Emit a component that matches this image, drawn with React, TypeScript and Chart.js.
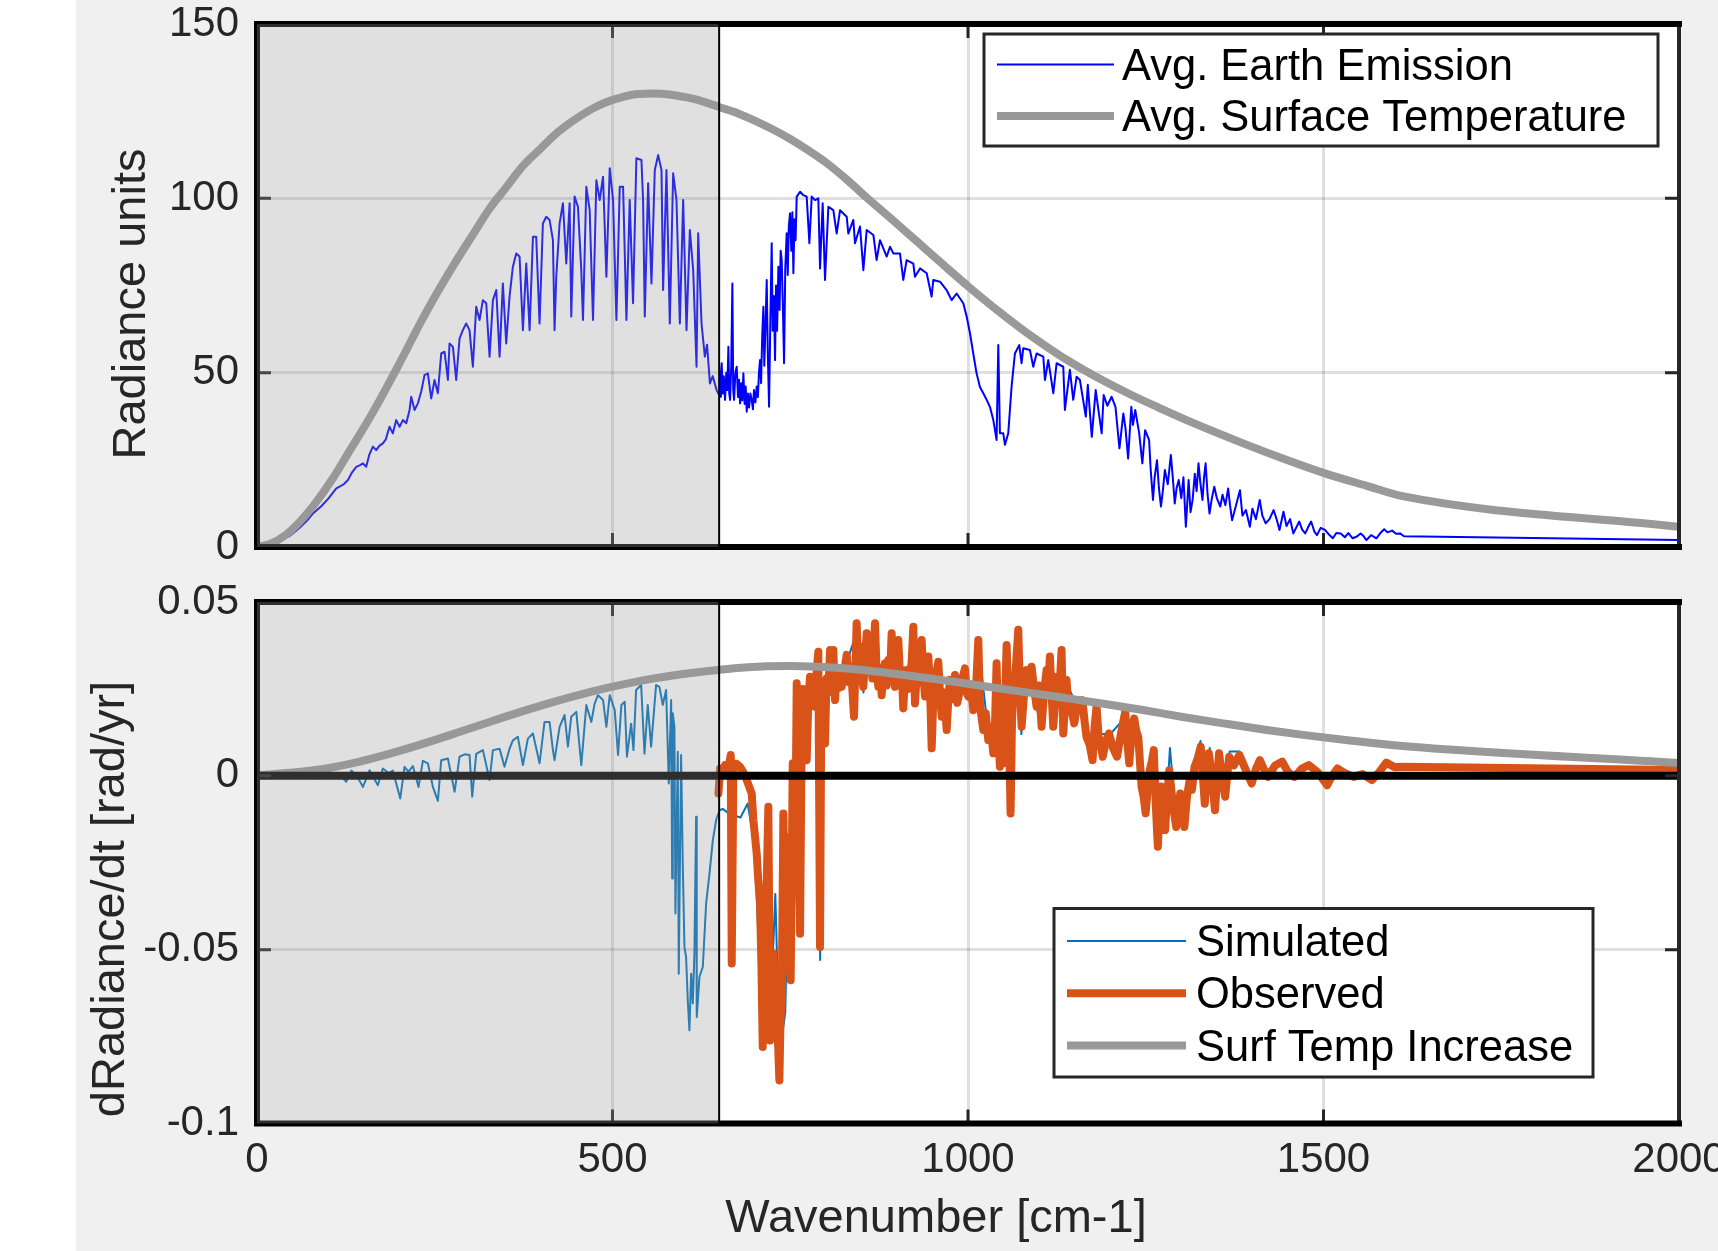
import React, { useEffect, useRef } from "react";
import { Chart, registerables } from "chart.js";

Chart.register(...registerables);

const FONT_FAMILY = '"Liberation Sans", Arial, Helvetica, sans-serif';

// ---------- axes / ticks ----------
const xTicks = [0, 500, 1000, 1500, 2000];
const topYTicks = [0, 50, 100, 150];
const bottomYTicks = [-0.1, -0.05, 0, 0.05];
const shadeEnd = 650;

const xTitle = "Wavenumber [cm-1]";
const topYTitle = "Radiance units";
const bottomYTitle = "dRadiance/dt [rad/yr]";

// ---------- top panel series (wavenumber, radiance) ----------
const earthEmission: [number, number][] = [
  [45, 3.0], [50.5, 3.9], [60, 5.5], [70, 7.5], [78.7, 9.6], [90, 11.6], [100, 13.8], [111.5, 16.8],
  [116.2, 17.3], [122, 18.0], [127.9, 19.2], [134, 21.5], [139.6, 23.0], [145, 23.5], [149, 24.0],
  [153.6, 23.0], [158, 26.5], [163, 28.8], [167.7, 27.8], [172, 29.0], [177, 29.7], [181, 30.8],
  [186.4, 34.5], [191.1, 32.6], [195.8, 36.4], [200.5, 34.5], [205.2, 36.4], [209.9, 35.5],
  [214.6, 39.3], [216.9, 43.1], [221.6, 39.3], [226.3, 41.2], [231, 44.6], [235.6, 49.3],
  [240.3, 49.8], [245, 42.6], [249.7, 47.9], [254.4, 44.1], [259.1, 55.5], [263.8, 56.0],
  [268.5, 47.9], [270.8, 58.4], [275.5, 57.4], [280.2, 47.9], [284.9, 59.8], [289.5, 62.2],
  [294.2, 64.1], [298.9, 62.2], [303.6, 51.7], [308.3, 68.9], [313, 65.1], [317.7, 70.8],
  [322.4, 69.9], [327.1, 54.6], [331.8, 70.8], [336.5, 73.7], [341.2, 54.6], [345.8, 75.6],
  [350.5, 58.4], [355.2, 71.8], [359.9, 80.4], [364.6, 84.2], [369.3, 83.3], [374, 62.2],
  [378.7, 81.3], [383.4, 62.2], [388.1, 89.0], [392.7, 89.0], [397.4, 64.1], [402.1, 92.8],
  [406.8, 94.7], [411.5, 93.8], [416.2, 88.0], [418.5, 62.2], [420.9, 77.5], [425.6, 92.8],
  [430.3, 98.6], [435, 81.3], [439.7, 98.6], [442, 66.1], [446.7, 100.5], [451.4, 97.6],
  [456.1, 79.4], [458.5, 65.1], [463.2, 103.3], [467.9, 96.6], [472.6, 65.1], [477.3, 105.2],
  [482, 99.5], [486.7, 106.2], [491.4, 77.5], [496.1, 108.6], [500.8, 99.5], [505.5, 65.1],
  [510.2, 103.3], [514.9, 103.3], [519.6, 65.1], [524.2, 99.5], [528.9, 69.9], [533.6, 111.5],
  [540.7, 111.0], [543, 99.5], [545.4, 66.1], [550.1, 104.3], [554.8, 75.6], [559.5, 108.1],
  [564.2, 112.4], [568.9, 108.1], [571.2, 73.7], [575.9, 108.1], [580.6, 64.1], [585.3, 107.2],
  [590, 99.5], [594.7, 64.1], [599.4, 99.5], [604.1, 62.2], [608.8, 90.9], [613.5, 79.4],
  [618.2, 51.7], [620.5, 90.0], [625.2, 64.1], [629.9, 54.6], [633, 58], [637, 46.9], [641, 49],
  [646.4, 45.0],
  [651.3, 43.1], [652.5, 50], [653.6, 52.7], [655, 44], [656.5, 49], [658.3, 42.2], [660, 50],
  [661.5, 45], [663, 57.4], [664.2, 44], [665.4, 42.2], [667, 52], [668.6, 75.6], [669.8, 45],
  [671, 42.2], [672.8, 50], [674.7, 51.7], [676.5, 43], [678, 48], [679.4, 41.2], [681, 47],
  [682.5, 42], [684.1, 49.8], [685.8, 41], [687.3, 46], [688.8, 38.8], [690.5, 44], [692, 40],
  [694, 44], [695.8, 42.2], [697.5, 39.5], [699, 45], [701, 41.5], [702.8, 46.0], [704.5, 43],
  [706, 50], [707.5, 53.6], [709, 47], [710.5, 60], [712.2, 68.9], [713.5, 52], [715, 62],
  [716.9, 76.6], [718.5, 55], [720.2, 40.2], [722, 65], [723.9, 87.1], [725.3, 62], [727, 72],
  [728.6, 53.6], [730, 75], [731.5, 62], [733.3, 80.4], [735, 68], [736.5, 85], [738, 82.3],
  [739.5, 70], [741.3, 52.7], [743, 80], [745, 90.0], [746.5, 78], [748, 92], [749.7, 95.7],
  [751.5, 85], [753, 96], [754.4, 78.5], [756, 94], [757.5, 88], [759.1, 100.5], [763.8, 101.9],
  [768.4, 100.9], [773.1, 100.5], [776.9, 87.1], [780.2, 100.5], [784.9, 99.5], [789.5, 100.0],
  [791.9, 79.9], [795.6, 98.6], [798.9, 76.6], [803.6, 97.6], [810.6, 96.6], [815.3, 89.9],
  [820, 96.6], [829.4, 94.7], [831.7, 89.9], [838.7, 93.8], [841.1, 87.1], [848.1, 91.9],
  [852.8, 79.4], [857.5, 90.9], [866.9, 89.5], [871.5, 82.3], [876.2, 88.0], [885.6, 83.3],
  [890.3, 86.1], [895, 84.2], [904.3, 84.2], [909, 76.6], [913.7, 82.3], [923.1, 81.3],
  [925.4, 77.5], [932.5, 79.9], [941.9, 78.5], [948.8, 71.8], [951.2, 76.6], [960.6, 76.1],
  [969.9, 73.7], [977, 70.8], [984, 72.7], [993.4, 69.9], [998.1, 66.1], [1002.8, 61.3],
  [1007.4, 55.5], [1012.1, 49.8], [1016.8, 45.9], [1021.5, 44.1], [1026.3, 42.2], [1030.8, 40.2],
  [1035.6, 36.4], [1040.2, 30.7], [1042.6, 57.9], [1044.9, 32.6], [1049.6, 32.6], [1052, 29.3],
  [1056.6, 32.6], [1061.3, 46.0], [1066, 55.5], [1072.1, 57.9], [1075.4, 52.7], [1077.7, 57.0],
  [1087.1, 56.5], [1091.8, 51.7], [1096.5, 55.5], [1105.9, 54.6], [1108.2, 47.9], [1112.9, 53.6],
  [1120, 44.1], [1124.6, 52.7], [1134, 51.7], [1136.3, 39.3], [1143.3, 50.8], [1148, 42.2],
  [1152.7, 48.8], [1157.4, 47.9], [1165.7, 37.4], [1168.5, 46.5], [1174.1, 31.6], [1179.6, 45.0],
  [1188, 32.6], [1190.8, 43.6], [1196, 40.5], [1201.9, 43.1], [1207.4, 40.2], [1213, 28.3],
  [1218.5, 38.3], [1221.5, 34], [1225.2, 25.4], [1229.7, 40.2], [1232, 35], [1235.2, 39.3],
  [1240.8, 32.6], [1245.2, 24.0], [1249.1, 33.5], [1254.7, 30.7], [1257, 22], [1260.2, 13.5],
  [1262.5, 20], [1265.8, 24.9], [1268.5, 17], [1271.4, 11.6], [1274, 16], [1276.9, 22.1],
  [1281, 18], [1285.3, 26.4], [1288, 20], [1290.8, 12.5], [1293.5, 17], [1296.4, 19.2],
  [1300, 14], [1303, 20], [1306.4, 5.8], [1310.3, 19.2], [1313, 10], [1315.9, 13.5], [1319, 21],
  [1321.5, 16], [1324.2, 24.0], [1327, 18], [1329.8, 13.5], [1332, 20], [1334.2, 24.0], [1337, 15],
  [1339.7, 9.6], [1343, 14], [1346.4, 17.3], [1350, 14], [1354.8, 11.6], [1358, 15], [1362, 12],
  [1365.9, 16.8], [1368.5, 12], [1371.4, 7.7], [1377, 12], [1382.5, 16.3], [1386, 9],
  [1390.9, 10.6], [1396.4, 5.8], [1400, 11], [1405, 8], [1410.3, 13.5], [1414, 9], [1418.7, 6.8],
  [1424, 8], [1429.8, 10.6], [1434, 8], [1438.1, 4.9], [1443.7, 10.1], [1448, 6], [1453, 8],
  [1457.6, 3.9], [1465.9, 7.3], [1470, 5], [1474.3, 3.9], [1478, 5.5], [1482.6, 7.3], [1487, 4.5],
  [1490.9, 3.4], [1496, 5.5], [1502.1, 4.9], [1508, 3.5], [1513.2, 2.5], [1518, 4], [1524.3, 3.9],
  [1530, 2.8], [1535, 4], [1541, 2.5], [1547, 3], [1552.1, 3.9], [1556, 3.2], [1560.4, 2.0],
  [1567, 3.4], [1574.3, 2.5], [1580, 4], [1585.4, 5.1], [1590, 4.2], [1596.6, 4.7], [1602, 3.8],
  [1607.7, 3.9], [1613.2, 3.1], [2000, 2.0],
];

const surfaceTemperature: [number, number][] = [
  [0, 0], [20, 1.0], [40, 3.4], [60, 7.2], [80, 12], [107, 19.8], [130, 27.5], [154, 35.5],
  [175, 43], [200, 52.5], [233, 65.5], [255, 73.5], [280, 82], [305, 90], [327, 97], [350, 103],
  [374, 109.3], [400, 114.5], [421, 118.6], [445, 122.3], [468, 125.3], [490, 127.5], [515, 129.1],
  [535, 129.9], [557, 130.1], [580, 129.8], [608, 128.8], [630, 127.6], [650, 126.2], [675, 124.5],
  [700, 122.3], [725, 119.8], [750, 117], [775, 113.8], [800, 110.3], [830, 105.3], [857, 100.3],
  [890, 94.5], [930, 87.3], [965, 81], [1000, 74.8], [1045, 67.3], [1091, 60.2], [1130, 54.8],
  [1157, 51.5], [1186, 48.2], [1230, 43.6], [1268, 40], [1320, 35.3], [1380, 30.3], [1440, 25.6],
  [1501, 21.2], [1560, 17.6], [1613, 14.5], [2000, 5.8],
];

// ---------- bottom panel series (wavenumber, dRadiance/dt) ----------
const simulated: [number, number][] = [
  [0, 0], [46, -0.0003], [83, -0.0007], [93, 0.0007], [105, -0.0005], [115, 0.0008], [125.5, -0.0017],
  [132.6, 0.0015], [140, 0.0002], [149, -0.0032], [158.3, 0.0016], [170, -0.0027], [177, 0.0021],
  [185, 0.0008], [191, 0.0015], [201.5, -0.0065], [207.5, 0.0026], [213, 0.0012], [219.3, 0.0028],
  [227.2, -0.0032], [233.3, 0.0043], [240.3, 0.0036], [247.4, -0.0032], [254.4, -0.0072],
  [259.1, 0.0045], [268.5, 0.0050], [277.9, -0.0046], [284.9, 0.0055], [292, 0.0062],
  [298.9, 0.0060], [302.7, -0.0060], [308.3, 0.0063], [317.7, 0.0074], [327.1, -0.0012],
  [331.8, 0.0074], [341.2, 0.0078], [348.1, 0.0026], [355.2, 0.0078], [359.9, 0.0102],
  [366.9, 0.0112], [374, 0.0031], [381, 0.0107], [388.1, 0.0122], [397.4, 0.0036], [404.4, 0.0155],
  [411.5, 0.0155], [416.2, 0.0074], [418.5, 0.0045], [425.6, 0.0141], [432.6, 0.0175],
  [437.3, 0.0084], [442, 0.0170], [449.1, 0.0184], [456.1, 0.0031], [463.2, 0.0204],
  [470.2, 0.0155], [474.9, 0.0208], [479.6, 0.0232], [486.7, 0.0218], [491.4, 0.0141],
  [496.1, 0.0232], [503.1, 0.0189], [507.8, 0.0060], [512.5, 0.0204], [517.2, 0.0213],
  [520.3, 0.0055], [526.2, 0.0150], [529.5, 0.0074], [533.2, 0.0247], [540.3, 0.0261],
  [545, 0.0064], [549.6, 0.0204], [554.3, 0.0084], [561.3, 0.0261], [566, 0.0256], [570.7, 0.0204],
  [575.4, 0.0247], [579.2, -0.0022], [582.5, 0.0218], [583.9, -0.0295], [584.8, 0.0180],
  [587.1, 0.0141], [588.5, -0.0396], [591.8, 0.0069], [593.2, -0.0569], [596.5, 0.0060],
  [598.9, -0.0262], [601.2, -0.0492], [603.5, -0.0521], [605.9, -0.0646], [608.2, -0.0732],
  [610.6, -0.0569], [612.9, -0.0655], [615.2, -0.0511], [617.6, -0.0118], [618.5, -0.0694],
  [622.3, -0.0578], [627, -0.0550], [631.7, -0.0367], [636.4, -0.0281], [641.1, -0.0185],
  [645.8, -0.0127], [650.5, -0.0099], [655, -0.0095], [665, -0.011], [680, -0.012], [690, -0.008],
  [700, -0.02], [710, -0.07], [716, -0.045], [722, -0.07], [729, -0.034], [735, -0.08],
  [743, -0.068], [748, -0.02], [752, -0.055], [757, -0.03], [760, 0.02], [765, -0.04], [770, 0.02],
  [778, 0.027], [785, 0.02], [790, 0.034], [792, -0.053], [796, 0.02], [806, 0.034], [815, 0.024],
  [830, 0.033], [843, 0.041], [853, 0.024], [858, 0.039], [870, 0.041], [880, 0.024], [893, 0.039],
  [903, 0.037], [910, 0.02], [923, 0.04], [935, 0.037], [945, 0.032], [950, 0.009], [958, 0.031],
  [970, 0.014], [982, 0.028], [996, 0.029], [1007, 0.019], [1015, 0.037], [1026, 0.017],
  [1036, 0.007], [1040, 0.03], [1046, 0.003], [1054, 0.035], [1060, -0.009], [1071, 0.04],
  [1075, 0.012], [1083, 0.029], [1097, 0.019], [1104, 0.014], [1115, 0.032], [1126, 0.027],
  [1134, 0.012], [1140, 0.026], [1158, 0.018], [1175, 0.005], [1185, 0.012], [1200, 0.012],
  [1222, 0.017], [1240, 0.011], [1250, -0.009], [1262, 0.007], [1268, -0.019], [1278, -0.013],
  [1284, 0.008], [1293, -0.013], [1300, -0.005], [1306, -0.014], [1318, 0.004], [1327, 0.010],
  [1333, -0.007], [1340, 0.008], [1348, -0.009], [1354, 0.007], [1362, -0.005], [1368, 0.007],
  [1382, 0.007], [1400, -0.001], [1411, 0.005], [1422, 0.0], [1442, 0.0045], [1460, 0.0],
  [1480, 0.0035], [1505, -0.002], [1520, 0.0025], [1543, 0.0], [1568, -0.0008], [1588, 0.004],
  [1611, 0.003], [2000, 0.0018],
];

const observed: [number, number][] = [
  [649, -0.0051], [651.3, 0.0021], [655, 0.0005], [658.3, 0.0031], [662, 0.001], [666.3, 0.0060],
  [667.7, -0.0540], [670, 0.0016], [674, 0.0035], [679.4, 0.0026], [684, 0.001], [688.8, -0.0012],
  [695.8, -0.0051], [698.2, -0.0128], [702.8, -0.0224], [705, -0.03], [707.5, -0.0368],
  [709.5, -0.055], [711.3, -0.0780], [713, -0.06], [714.6, -0.0464], [717, -0.03], [719.2, -0.0089],
  [721.6, -0.0761], [724, -0.06], [726.3, -0.0511], [728.6, -0.066], [731, -0.0704], [733, -0.078],
  [734.7, -0.0876], [736.3, -0.07], [738, -0.0656], [740.3, -0.0108], [742, -0.04], [744.1, -0.0559],
  [745.8, -0.03], [747.4, -0.0176], [749, -0.045], [750.6, -0.0588], [752, -0.03], [753.5, 0.0036],
  [755, -0.01], [756.7, -0.0300], [759.1, 0.0266], [761.5, 0.005], [763.8, -0.0454], [766.1, 0.0132],
  [767.7, 0.025], [769.4, 0.0208], [771, 0.012], [773.1, 0.0045], [775.5, 0.022], [777.8, 0.0285],
  [780, 0.022], [782.5, 0.027], [784.8, 0.0199], [787, 0.03], [789.5, 0.0357], [791.9, -0.0492],
  [793.5, 0.015], [795.6, 0.0199], [797.3, 0.026], [798.9, 0.0093], [801, 0.028], [803.5, 0.024],
  [806, 0.0362], [808, 0.028], [810.6, 0.0362], [813, 0.0218], [815.2, 0.03], [817.6, 0.0252],
  [820, 0.031], [822.3, 0.0256], [825.8, 0.03], [829.4, 0.0348], [831.8, 0.027], [834.1, 0.0314],
  [837, 0.026], [839.7, 0.017], [841.5, 0.03], [843.4, 0.0439], [845.8, 0.03], [848.1, 0.0372],
  [850.5, 0.029], [852.8, 0.0256], [855, 0.033], [857.5, 0.041], [860, 0.03], [862.2, 0.0362],
  [865.5, 0.028], [869.2, 0.0439], [871.5, 0.03], [873.9, 0.0256], [876.2, 0.031], [878.6, 0.0232],
  [881, 0.03], [883.3, 0.0324], [885.6, 0.026], [887.9, 0.0333], [890.3, 0.028], [892.6, 0.041],
  [895, 0.031], [897.3, 0.0256], [899.6, 0.033], [902, 0.0391], [904.3, 0.029], [906.7, 0.0304],
  [909, 0.0194], [911.3, 0.028], [913.7, 0.0304], [916, 0.025], [918.4, 0.0285], [920.8, 0.033],
  [923.1, 0.0429], [925.4, 0.0208], [927.8, 0.029], [930.1, 0.0314], [932.5, 0.027], [934.8, 0.0391],
  [937.2, 0.029], [939.5, 0.0228], [941.9, 0.03], [944.2, 0.0343], [946.5, 0.026], [948.9, 0.0079],
  [951.2, 0.022], [953.5, 0.0256], [955.9, 0.03], [958.2, 0.0328], [960.6, 0.024], [963, 0.017],
  [966.5, 0.024], [970, 0.0132], [972.3, 0.022], [974.6, 0.0276], [978, 0.022], [981.7, 0.029],
  [985, 0.021], [988.7, 0.0247], [992, 0.028], [995.7, 0.0309], [998, 0.024], [1000.4, 0.0228],
  [1004, 0.026], [1007.4, 0.0189], [1011, 0.024], [1014.5, 0.0391], [1016.8, 0.0208], [1019, 0.017],
  [1021.5, 0.0132], [1025, 0.018], [1028.5, 0.0103], [1032, 0.014], [1035.6, 0.0065], [1038, 0.015],
  [1040.2, 0.0324], [1042.5, 0.012], [1044.9, 0.0026], [1047, 0.008], [1049.6, 0.0036],
  [1052, 0.02], [1054.3, 0.0376], [1057, 0.02], [1059.9, -0.0108], [1061.8, 0.015], [1063.7, 0.0256],
  [1067, 0.03], [1070.7, 0.0420], [1073, 0.025], [1075.4, 0.0141], [1079, 0.024], [1082.4, 0.0304],
  [1086, 0.025], [1089.4, 0.0314], [1093, 0.025], [1096.5, 0.0199], [1100, 0.026], [1103.5, 0.0141],
  [1107, 0.024], [1110.5, 0.0304], [1113, 0.027], [1115.2, 0.0343], [1117.5, 0.024],
  [1119.9, 0.0141], [1122.8, 0.022], [1125.6, 0.0285], [1128.5, 0.024], [1131.6, 0.0362],
  [1134, 0.0122], [1136.3, 0.02], [1138.6, 0.0276], [1141, 0.02], [1143.6, 0.0224], [1146.5, 0.018],
  [1149.4, 0.0151], [1153, 0.02], [1157.4, 0.0189], [1160.9, 0.0218], [1163.8, 0.016],
  [1166.6, 0.0112], [1171, 0.009], [1175.2, 0.0045], [1178, 0.014], [1180.8, 0.0199],
  [1183.8, 0.0112], [1186.5, 0.009], [1189.5, 0.0055], [1194, 0.01], [1198.2, 0.0122],
  [1204, 0.008], [1209.6, 0.0055], [1215, 0.012], [1221.1, 0.0184], [1224, 0.01], [1226.8, 0.0036],
  [1230, 0.012], [1233.7, 0.0165], [1236.6, 0.013], [1239.5, 0.0112], [1244.1, -0.0031],
  [1247, -0.006], [1249.8, -0.0108], [1252.6, -0.004], [1255.5, 0.0016], [1258.4, 0.004],
  [1261.3, 0.0074], [1264, -0.008], [1267, -0.0204], [1269.3, -0.01], [1271.6, -0.0031],
  [1274.5, -0.01], [1277.3, -0.0156], [1280, -0.006], [1283.1, 0.0016], [1288, -0.008],
  [1292.8, -0.0147], [1295.6, -0.01], [1298.5, -0.0051], [1301.4, -0.01], [1304.3, -0.0147],
  [1308, -0.006], [1311.8, -0.0012], [1315, -0.004], [1318.6, 0.0026], [1323, 0.005],
  [1327.3, 0.0084], [1330, 0.001], [1333, -0.0080], [1335.8, 0.0], [1338.7, 0.0065], [1343, 0.0],
  [1347.3, -0.0099], [1350, -0.002], [1353.1, 0.0065], [1357, 0.0], [1361.7, -0.0060],
  [1364.5, 0.0], [1367.4, 0.0055], [1374, 0.003], [1381.8, 0.0060], [1390, 0.002], [1399, -0.0022],
  [1405, 0.002], [1410.5, 0.0045], [1416, 0.002], [1421.9, -0.0003], [1432, 0.003], [1442, 0.0041],
  [1450, 0.001], [1459.2, -0.0003], [1469, 0.002], [1479.3, 0.0031], [1492, 0.001],
  [1505.1, -0.0027], [1512, 0.0], [1519.5, 0.0021], [1530, 0.0008], [1542.4, -0.0003],
  [1555, 0.0005], [1568.2, -0.0012], [1578, 0.001], [1588.3, 0.0038], [1600, 0.0025],
  [1611.3, 0.0026], [2000, 0.0017],
];

const surfTempIncrease: [number, number][] = [
  [0, 0.0002], [46, 0.0009], [93, 0.0020], [140, 0.0039], [187, 0.0064], [233, 0.0092],
  [280, 0.0123], [327, 0.0155], [374, 0.0186], [421, 0.0215], [468, 0.0241], [515, 0.0263],
  [561, 0.0281], [608, 0.0295], [651, 0.0305], [690, 0.0312], [717, 0.0315], [750, 0.0316],
  [787, 0.0314], [820, 0.0310], [858, 0.0303], [900, 0.0293], [951, 0.0279], [1000, 0.0265],
  [1045, 0.0251], [1090, 0.0238], [1130, 0.0226], [1186, 0.0209], [1244, 0.0190], [1300, 0.0170],
  [1359, 0.0151], [1420, 0.0132], [1474, 0.0117], [1540, 0.0101], [1611, 0.0086], [2000, 0.0037],
];

const zeroLine: [number, number][] = [[0, 0], [2000, 0]];

// ---------- helpers ----------
const toXY = (arr: [number, number][]) => arr.map(([x, y]) => ({ x, y }));

const matlabAxes = {
  id: "matlabAxes",
  beforeDraw(chart: any) {
    const { ctx, chartArea: a } = chart;
    ctx.save();
    ctx.fillStyle = "#ffffff";
    ctx.fillRect(a.left, a.top, a.right - a.left, a.bottom - a.top);
    ctx.restore();
  },
  afterDatasetsDraw(chart: any, _args: any, opts: any) {
    const { ctx, chartArea: a, scales } = chart;
    const xs = scales.x;
    const ys = scales.y;
    ctx.save();
    // inward tick marks on all four sides
    ctx.strokeStyle = "#262626";
    ctx.lineWidth = 3;
    ctx.lineCap = "butt";
    ctx.beginPath();
    xs.ticks.forEach((t: any) => {
      const px = xs.getPixelForValue(t.value);
      ctx.moveTo(px, a.bottom);
      ctx.lineTo(px, a.bottom - 14);
      ctx.moveTo(px, a.top);
      ctx.lineTo(px, a.top + 14);
    });
    ys.ticks.forEach((t: any) => {
      const py = ys.getPixelForValue(t.value);
      ctx.moveTo(a.left, py);
      ctx.lineTo(a.left + 14, py);
      ctx.moveTo(a.right, py);
      ctx.lineTo(a.right - 14, py);
    });
    ctx.stroke();
    // box
    ctx.strokeStyle = "#262626";
    ctx.lineWidth = 4;
    ctx.beginPath();
    ctx.moveTo(a.right, a.top);
    ctx.lineTo(a.right, a.bottom);
    ctx.stroke();
    ctx.strokeStyle = "#000000";
    ctx.lineWidth = 6;
    ctx.lineCap = "square";
    ctx.beginPath();
    ctx.moveTo(a.right, a.top);
    ctx.lineTo(a.left, a.top);
    ctx.lineTo(a.left, a.bottom);
    ctx.lineTo(a.right, a.bottom);
    ctx.stroke();
    // translucent shaded band
    const sx = xs.getPixelForValue(opts.shadeEnd);
    ctx.fillStyle = "rgba(153,153,153,0.3)";
    ctx.fillRect(a.left, a.top, sx - a.left, a.bottom - a.top);
    ctx.strokeStyle = "#000000";
    ctx.lineWidth = 2;
    ctx.lineCap = "butt";
    ctx.beginPath();
    ctx.moveTo(sx, a.top);
    ctx.lineTo(sx, a.bottom);
    ctx.stroke();
    ctx.restore();
  },
  afterDraw(chart: any, _args: any, opts: any) {
    const ctx = chart.ctx;
    const lg = opts.legend;
    if (lg) {
      ctx.save();
      ctx.fillStyle = "#ffffff";
      ctx.fillRect(lg.left, lg.top, lg.right - lg.left, lg.bottom - lg.top);
      ctx.strokeStyle = "#262626";
      ctx.lineWidth = 3;
      ctx.strokeRect(lg.left, lg.top, lg.right - lg.left, lg.bottom - lg.top);
      const items = chart.data.datasets.filter((d: any) => d.label);
      items.forEach((d: any, i: number) => {
        const y = lg.rowY + i * lg.rowGap;
        ctx.strokeStyle = d.borderColor;
        ctx.lineWidth = d.borderWidth;
        ctx.lineCap = "butt";
        ctx.beginPath();
        ctx.moveTo(lg.sampleLeft, y);
        ctx.lineTo(lg.sampleRight, y);
        ctx.stroke();
        ctx.fillStyle = "#000000";
        ctx.font = `${lg.fontSize}px ${FONT_FAMILY}`;
        ctx.textAlign = "left";
        ctx.textBaseline = "middle";
        ctx.fillText(d.label, lg.textLeft, y + lg.textDy);
      });
      ctx.restore();
    }
    (opts.titles || []).forEach((t: any) => {
      ctx.save();
      ctx.translate(t.x, t.y);
      if (t.rotate) ctx.rotate(-Math.PI / 2);
      ctx.font = `${t.size}px ${FONT_FAMILY}`;
      ctx.fillStyle = "#262626";
      ctx.textAlign = "center";
      ctx.textBaseline = "middle";
      ctx.fillText(t.text, 0, 0);
      ctx.restore();
    });
  },
};

const gridOpts = { color: "rgba(38,38,38,0.15)", lineWidth: 3, drawTicks: false };
const tickFont = { family: FONT_FAMILY, size: 42 };

function zeroPad(s: any) {
  s.paddingLeft = 0;
  s.paddingRight = 0;
  s.paddingTop = 0;
  s.paddingBottom = 0;
}

function lineDs(label: string, data: [number, number][], color: string, width: number, order: number, smooth = false) {
  return {
    label,
    data: toXY(data),
    borderColor: color,
    backgroundColor: color,
    borderWidth: width,
    pointRadius: 0,
    fill: false,
    order,
    borderJoinStyle: "round",
    borderCapStyle: "round",
    cubicInterpolationMode: smooth ? "monotone" : "default",
    tension: 0,
  };
}

function topConfig(): any {
  return {
    type: "line",
    data: {
      datasets: [
        lineDs("Avg. Earth Emission", earthEmission, "#0000ff", 2, 2),
        lineDs("Avg. Surface Temperature", surfaceTemperature, "#999999", 8, 1, true),
      ],
    },
    options: {
      responsive: false,
      animation: false,
      events: [],
      parsing: false,
      layout: { padding: { top: 24, right: 39, left: 0, bottom: 0 } },
      scales: {
        x: {
          type: "linear",
          min: 0,
          max: 2000,
          afterBuildTicks: (s: any) => { s.ticks = xTicks.map((v) => ({ value: v })); },
          ticks: { display: false },
          grid: gridOpts,
          border: { display: false },
          afterFit: (s: any) => { s.height = 28; zeroPad(s); },
        },
        y: {
          type: "linear",
          min: 0,
          max: 150,
          afterBuildTicks: (s: any) => { s.ticks = topYTicks.map((v) => ({ value: v })); },
          ticks: { font: tickFont, color: "#262626", padding: 18, callback: (v: any) => String(v) },
          grid: gridOpts,
          border: { display: false },
          afterFit: (s: any) => { s.width = 257; zeroPad(s); },
        },
      },
      plugins: {
        legend: { display: false },
        tooltip: { enabled: false },
        matlabAxes: {
          shadeEnd,
          legend: {
            left: 984, top: 34, right: 1658, bottom: 146,
            rowY: 64.5, rowGap: 51.5, sampleLeft: 997, sampleRight: 1114, textLeft: 1122,
            fontSize: 43.5, textDy: 3,
          },
          titles: [{ text: topYTitle, x: 132, y: 304, rotate: true, size: 47 }],
        },
      },
    },
    plugins: [matlabAxes],
  };
}

function bottomConfig(): any {
  return {
    type: "line",
    data: {
      datasets: [
        lineDs("Simulated", simulated, "#0072BD", 2, 4),
        lineDs("Observed", observed, "#D95319", 8, 3),
        lineDs("Surf Temp Increase", surfTempIncrease, "#999999", 8, 2, true),
        lineDs("", zeroLine, "#000000", 8, 1),
      ],
    },
    options: {
      responsive: false,
      animation: false,
      events: [],
      parsing: false,
      layout: { padding: { top: 27, right: 39, left: 0, bottom: 0 } },
      scales: {
        x: {
          type: "linear",
          min: 0,
          max: 2000,
          afterBuildTicks: (s: any) => { s.ticks = xTicks.map((v) => ({ value: v })); },
          ticks: { font: tickFont, color: "#262626", padding: 12, maxRotation: 0, autoSkip: false, callback: (v: any) => String(v) },
          grid: gridOpts,
          border: { display: false },
          afterFit: (s: any) => { s.height = 127.5; zeroPad(s); },
        },
        y: {
          type: "linear",
          min: -0.1,
          max: 0.05,
          afterBuildTicks: (s: any) => { s.ticks = bottomYTicks.map((v) => ({ value: v })); },
          ticks: { font: tickFont, color: "#262626", padding: 18, callback: (v: any) => String(v) },
          grid: gridOpts,
          border: { display: false },
          afterFit: (s: any) => { s.width = 257; zeroPad(s); },
        },
      },
      plugins: {
        legend: { display: false },
        tooltip: { enabled: false },
        matlabAxes: {
          shadeEnd,
          legend: {
            left: 1054, top: 333.5, right: 1593, bottom: 502,
            rowY: 366, rowGap: 52.3, sampleLeft: 1067, sampleRight: 1186, textLeft: 1196,
            fontSize: 43.5, textDy: 3,
          },
          titles: [
            { text: bottomYTitle, x: 111, y: 324, rotate: true, size: 47 },
            { text: xTitle, x: 936, y: 644, rotate: false, size: 47 },
          ],
        },
      },
    },
    plugins: [matlabAxes],
  };
}

export default function App() {
  const topRef = useRef<HTMLCanvasElement>(null);
  const botRef = useRef<HTMLCanvasElement>(null);

  useEffect(() => {
    Chart.defaults.font.family = FONT_FAMILY;
    const top = new Chart(topRef.current as HTMLCanvasElement, topConfig());
    const bot = new Chart(botRef.current as HTMLCanvasElement, bottomConfig());
    return () => {
      top.destroy();
      bot.destroy();
    };
  }, []);

  return (
    <div style={{ position: "fixed", left: 0, top: 0, width: 1718, height: 1251, background: "#ffffff", overflow: "hidden" }}>
      <div style={{ position: "absolute", left: 76, top: 0, width: 1642, height: 1251, background: "#f0f0f0" }} />
      <canvas ref={topRef} width={1718} height={575} style={{ position: "absolute", left: 0, top: 0, width: 1718, height: 575 }} />
      <canvas ref={botRef} width={1718} height={676} style={{ position: "absolute", left: 0, top: 575, width: 1718, height: 676 }} />
    </div>
  );
}
